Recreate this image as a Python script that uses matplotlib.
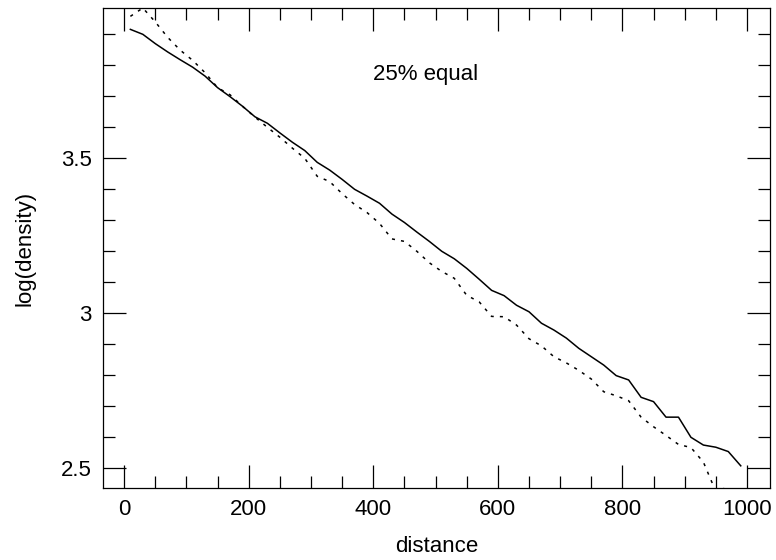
import numpy as np
import matplotlib
matplotlib.use('Agg')
import matplotlib.pyplot as plt
from matplotlib.ticker import MultipleLocator

plt.rcParams['font.family'] = ['Liberation Sans', 'DejaVu Sans']

# bin centres along distance
distance = np.arange(10, 1000, 20)

# solid curve
logdens_a = [3.916, 3.900, 3.870, 3.843, 3.818, 3.794, 3.765, 3.728, 3.699, 3.668,
             3.634, 3.613, 3.582, 3.552, 3.525, 3.487, 3.462, 3.432, 3.400, 3.378,
             3.355, 3.320, 3.293, 3.262, 3.232, 3.200, 3.176, 3.145, 3.110, 3.074,
             3.057, 3.026, 3.005, 2.968, 2.946, 2.920, 2.887, 2.860, 2.833, 2.799,
             2.785, 2.729, 2.715, 2.665, 2.665, 2.600, 2.575, 2.568, 2.554, 2.508]

# dotted curve
logdens_b = [3.958, 3.985, 3.940, 3.890, 3.849, 3.816, 3.776, 3.728, 3.705, 3.668,
             3.633, 3.600, 3.568, 3.533, 3.500, 3.442, 3.425, 3.386, 3.351, 3.325,
             3.290, 3.240, 3.232, 3.200, 3.163, 3.135, 3.113, 3.058, 3.037, 2.990,
             2.989, 2.962, 2.918, 2.895, 2.860, 2.840, 2.816, 2.788, 2.747, 2.734,
             2.718, 2.665, 2.634, 2.606, 2.577, 2.567, 2.520, 2.425, 2.440, 2.370]

fig = plt.figure(figsize=(7.76, 5.6), dpi=100)
ax = fig.add_axes([0.1327, 0.1291, 0.9923 - 0.1327, 0.9852 - 0.1291])

ax.plot(distance, logdens_a, color='black', lw=1.1)
ax.plot(distance, logdens_b, color='black', lw=1.1, linestyle=(0, (2, 4)))

ax.set_xlim(-34, 1037)
ax.set_ylim(2.4374, 3.984)

ax.xaxis.set_major_locator(MultipleLocator(200))
ax.xaxis.set_minor_locator(MultipleLocator(50))
ax.yaxis.set_major_locator(MultipleLocator(0.5))
ax.yaxis.set_minor_locator(MultipleLocator(0.1))
ax.yaxis.set_major_formatter(plt.FuncFormatter(lambda v, p: f'{v:g}'))

ax.tick_params(which='both', direction='in', top=True, right=True, width=0.9,
               labelsize=16, pad=8)
ax.tick_params(which='major', length=16.5)
ax.tick_params(which='minor', length=8.5)
for s in ax.spines.values():
    s.set_linewidth(0.9)

ax.set_xlabel('distance', fontsize=16, labelpad=12)
ax.set_ylabel('log(density)', fontsize=16, labelpad=18)

ax.text(400, 3.769, '25% equal', fontsize=16, ha='left', va='center')

fig.savefig('out.png', dpi=100)
plt.close()
